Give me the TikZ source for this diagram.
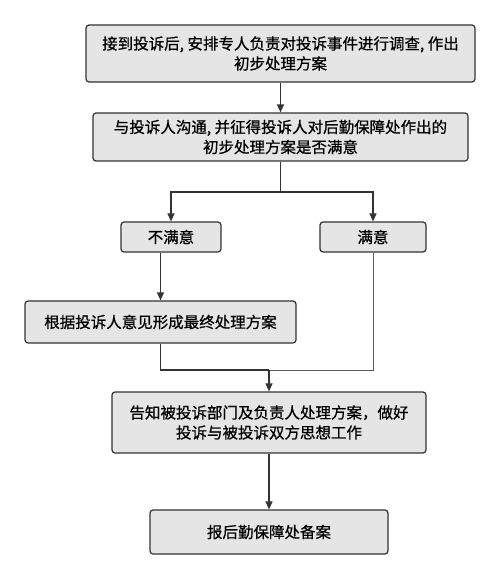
\documentclass[tikz,border=0pt]{standalone}
\usepackage{fontspec}
\newfontfamily\cjk[FakeBold=0.7]{Noto Sans CJK SC}
\usetikzlibrary{arrows.meta}
\tikzset{
	stepbox/.style={draw=black!80,fill=black!10,line width=1.2pt,rounded corners=3pt,
		inner sep=0pt,align=center,font=\cjk\fontsize{15.5}{20}\selectfont},
	flow/.style={draw=black!80,line width=1.3pt},
	tip/.style={-{Triangle[length=8pt,width=7pt]}}
}
\begin{document}
\begin{tikzpicture}[x=1pt,y=-1pt]
		\useasboundingbox (0,0) rectangle (500,578);
		%first steps
		\node[stepbox,minimum width=389pt,minimum height=57pt] (receive) at (280.5,53.5) {接到投诉后, 安排专人负责对投诉事件进行调查, 作出\\初步处理方案};
		\node[stepbox,minimum width=375pt,minimum height=48pt] (consult) at (280.5,137) {与投诉人沟通, 并征得投诉人对后勤保障处作出的\\初步处理方案是否满意};
		\draw[flow,tip] (receive) -- (consult);
		%branches
		\node[stepbox,minimum width=100pt,minimum height=30pt] (no) at (171,237) {不满意};
		\node[stepbox,minimum width=106pt,minimum height=30pt] (yes) at (373,237) {满意};
		\coordinate (split) at (280.5,192);
		\draw[flow] (consult) -- (split);
		\draw[flow,tip] (split) -| (no);
		\draw[flow,tip] (split) -| (yes);
		\node[stepbox,minimum width=271pt,minimum height=42pt] (final) at (160.5,322) {根据投诉人意见形成最终处理方案};
		\draw[flow,tip] (no.south -| final.north) -- (final);
		%merge
		\coordinate (merge) at (269,370);
		\node[stepbox,minimum width=314pt,minimum height=61pt] (inform) at (269,422.5) {告知被投诉部门及负责人处理方案，做好\\投诉与被投诉双方思想工作};
		\draw[flow] (final) |- (merge);
		\draw[flow,line width=0.9pt,draw=black!65] (yes) |- (merge);
		\draw[flow,tip] (merge) -- (inform);
		\node[stepbox,minimum width=238pt,minimum height=44pt] (record) at (269,532) {报后勤保障处备案};
		\draw[flow,tip] (inform) -- (record);
	\end{tikzpicture}
\end{document}
